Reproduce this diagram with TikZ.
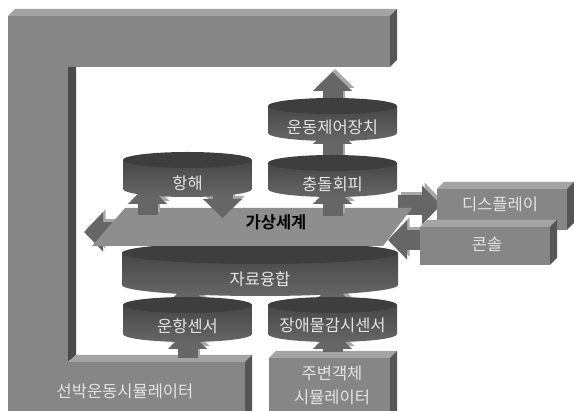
\documentclass[tikz,border=0pt]{standalone}
\usepackage{fontspec}
\newfontfamily\kr{Noto Sans CJK KR}[BoldFont={Noto Sans CJK KR Bold}]
\usetikzlibrary{arrows.meta,calc}
\definecolor{frontc}{HTML}{868686}
\definecolor{topc}{HTML}{A4A4A4}
\definecolor{sidec}{HTML}{555555}
\definecolor{stripc}{HTML}{4A4A4A}
\definecolor{cyltopc}{HTML}{3E3E3E}
\definecolor{cylA}{HTML}{474747}
\definecolor{cylB}{HTML}{666666}
\definecolor{planec}{HTML}{8E8E8E}
\definecolor{arrowc}{HTML}{666666}
\definecolor{arrowlight}{HTML}{A8A8A8}
\definecolor{txtc}{HTML}{E4E4E4}
\tikzset{
  face/.style={fill=frontc, draw=none, inner sep=0pt, outer sep=0pt},
  topface/.style={fill=topc},
  sideface/.style={fill=sidec},
  ghost/.style={draw=none, inner sep=0pt, outer sep=0pt},
  lighttext/.style={font=\kr\fontsize{16.5}{24}\selectfont, text=txtc, inner sep=1pt},
  barrow/.style={draw=arrowc, line width=20pt, line cap=butt, -{Triangle[width=38pt,length=19pt]}},
  barrowhi/.style={barrow, draw=arrowlight, transform canvas={xshift=2.5pt, yshift=3pt}},
}
% 3D block arrow: light extrusion then main body
\newcommand\blockarrow[2]{%
  \draw[barrowhi] #1 -- #2;
  \draw[barrow] #1 -- #2;
}
% #1 name, #2 cx, #3 top, #4 rx, #5 height, #6 ry, #7 text y, #8 text
\newcommand\cylpart[8]{%
  \shade[top color=cylA, bottom color=cylB] ({#2-#4},{#3+#6}) -- ({#2-#4},{#3+#5-#6})
     arc[start angle=180, end angle=0, x radius=#4, y radius=#6] -- ({#2+#4},{#3+#6}) -- cycle;
  \fill[cyltopc] (#2,{#3+#6}) ellipse[x radius=#4, y radius=#6];
  \node[ghost, minimum width={2*#4}, minimum height=#5] (#1) at (#2,{#3+#5/2}) {};
  \node[lighttext] (#1-t) at (#2,#7) {#8};
}
\begin{document}
\begin{tikzpicture}[x=1pt,y=-1pt]
\fill[white] (0,0) rectangle (574,411);
\useasboundingbox (0,0) rectangle (574,411);
% ---- frame ----
\node[face, minimum width=382, minimum height=51] (topbar) at (199,41.5) {};
\node[face, minimum width=60, minimum height=395] (leftbar) at (38,213.5) {};
\node[face, minimum width=237, minimum height=49] (bottombar) at (126.5,386.5) {};
\fill[topface] (8,16) -- (15,9) -- (397,9) -- (390,16) -- cycle;
\fill[sideface] (390,16) -- (397,9) -- (397,60) -- (390,67) -- cycle;
\fill[stripc] (68,67) -- (76,67) -- (76,355) -- (68,362) -- cycle;
\fill[topface] (68,362) -- (76,355) -- (252,355) -- (245,362) -- cycle;
\fill[sideface] (245,362) -- (252,355) -- (252,411) -- (245,411) -- cycle;
\node[lighttext] (shipsim) at (125,391) {선박운동시뮬레이터};
% ---- surrounding object simulator ----
\node[face, minimum width=121, minimum height=53] (objsim) at (329.5,384.5) {};
\fill[topface] (269,358) -- (276,351) -- (397,351) -- (390,358) -- cycle;
\fill[sideface] (390,358) -- (397,351) -- (397,411) -- (390,411) -- cycle;
\node[lighttext, align=center] (objsim-t) at (332,385) {주변객체\\시뮬레이터};
% ---- ghost nodes for connectors ----
\node[ghost, minimum width=129, minimum height=43] (ctrl) at (332.5,119.5) {};
\node[ghost, minimum width=129, minimum height=42] (coll) at (332.5,176) {};
\node[ghost, minimum width=129, minimum height=45] (nav) at (187.5,174.5) {};
\node[ghost, minimum width=288, minimum height=38] (plane) at (254,227) {};
\node[ghost, minimum width=130, minimum height=41] (display) at (502,209.5) {};
\node[ghost, minimum width=130, minimum height=38] (console) at (485,246) {};
\node[ghost, minimum width=129, minimum height=45] (navsensor) at (187.5,319.5) {};
\node[ghost, minimum width=129, minimum height=45] (obssensor) at (332.5,319.5) {};
\node[ghost, minimum width=276, minimum height=54] (fusion) at (260,269) {};
% ---- back arrows ----
\blockarrow{(ctrl.center)}{($(topbar.south -| ctrl.center)+(0,5)$)}
\blockarrow{(coll.center)}{($(ctrl.south)+(0,-16)$)}
\blockarrow{(navsensor.center)}{($(fusion.south -| navsensor.center)+(0,-12)$)}
\blockarrow{(obssensor.center)}{($(fusion.south -| obssensor.center)+(0,-12)$)}
\blockarrow{($(bottombar.north -| navsensor.center)+(0,-4)$)}{($(navsensor.south)+(0,-12)$)}
\blockarrow{($(objsim.north -| obssensor.center)+(0,-6)$)}{($(obssensor.south)+(0,-12)$)}
\blockarrow{($(plane.center)+(0,5)$)}{($(leftbar.east |- plane.center)+(16,5)$)}
\blockarrow{($(plane.east)+(0,-22)$)}{($(display.west)+(4,-4.5)$)}
% ---- sensors and fusion ----
\cylpart{navsensorc}{187.5}{297}{64.5}{45}{8}{326}{운항센서}
\cylpart{obssensorc}{332.5}{297}{64.5}{45}{8}{325}{장애물감시센서}
\cylpart{fusionc}{260}{242}{138}{54}{11}{279}{자료융합}
% ---- virtual world plane ----
\fill[planec] (92,246) -- (125,208) -- (412,208) -- (383,246) -- cycle;
\node[font=\kr\bfseries\fontsize{16.5}{20}\selectfont, text=black, inner sep=1pt] (plane-t) at (276,222) {가상세계};
% ---- front arrows ----
\blockarrow{($(plane.north -| coll.center)+(0,8)$)}{($(coll.south)+(0,-12)$)}
\blockarrow{($(plane.north -| nav.center)+(-40,7)$)}{($(nav.south)+(-40,-12)$)}
\blockarrow{($(nav.center)+(35,0)$)}{($(plane.north -| nav.center)+(35,10)$)}
\blockarrow{($(console.west)+(12,-6)$)}{($(console.west)+(-32,-6)$)}
% ---- upper cylinders ----
\cylpart{navc}{187.5}{152}{64.5}{45}{8}{183}{항해}
\cylpart{collc}{332.5}{155}{64.5}{42}{8}{184}{충돌회피}
\cylpart{ctrlc}{332.5}{98}{64.5}{43}{8}{127}{운동제어장치}
% ---- display and console ----
\node[face, minimum width=130, minimum height=41] (displaybox) at (502,209.5) {};
\fill[topface] (437,189) -- (444,182) -- (574,182) -- (567,189) -- cycle;
\fill[sideface] (567,189) -- (574,182) -- (574,223) -- (567,230) -- cycle;
\node[lighttext] (display-t) at (500,204) {디스플레이};
\node[face, minimum width=130, minimum height=38] (consolebox) at (485,246) {};
\fill[topface] (420,227) -- (427,220) -- (557,220) -- (550,227) -- cycle;
\fill[sideface] (550,227) -- (557,220) -- (557,258) -- (550,265) -- cycle;
\node[lighttext] (console-t) at (487,244) {콘솔};
\end{tikzpicture}
\end{document}
